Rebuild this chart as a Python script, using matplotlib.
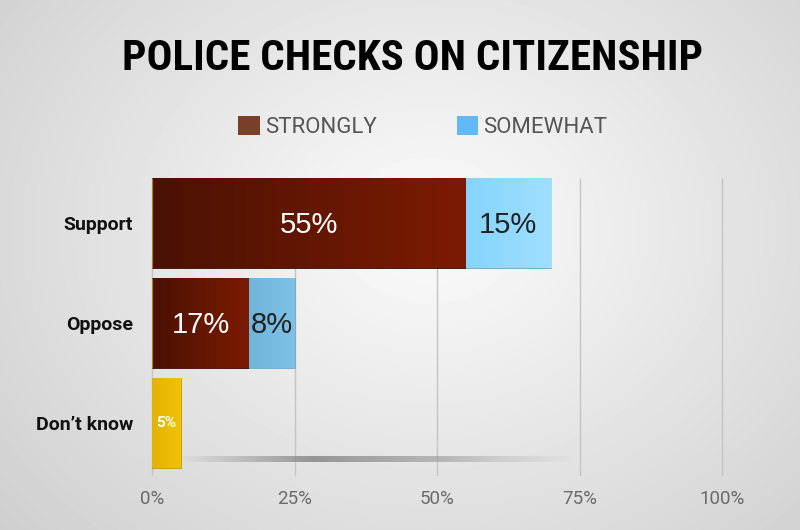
import numpy as np
import matplotlib
matplotlib.use("Agg")
import matplotlib.pyplot as plt
from matplotlib.patches import Patch
from matplotlib.colors import LinearSegmentedColormap

# data
categories = ["Support", "Oppose", "Don\u2019t know"]
strongly = [55, 17, 0]
somewhat = [15, 8, 0]
dont_know = [0, 0, 5]
ticks = [0, 25, 50, 75, 100]
tick_labels = ["0%", "25%", "50%", "75%", "100%"]

roboto = ["Roboto", "DejaVu Sans"]
narrow = ["Roboto Condensed", "DejaVu Sans"]
sans = ["Liberation Sans", "DejaVu Sans"]

fig = plt.figure(figsize=(8, 5.3), dpi=100)

# radial background
bg = fig.add_axes([0, 0, 1, 1], zorder=-10)
yy, xx = np.mgrid[0:530, 0:800]
r = np.sqrt(((xx - 430) / 520.0) ** 2 + ((yy - 230) / 420.0) ** 2)
shade = np.clip(0.985 - 0.16 * r, 0.8, 1)
bg.imshow(shade, cmap="gray", vmin=0, vmax=1, aspect="auto", extent=[0, 800, 530, 0])
bg.axis("off")

# main axes: 0% at x=152 px, 5.7 px per %
x0, k = 152, 5.7
left_px, right_px = 147, 760
ax = fig.add_axes([left_px / 800, 1 - 476 / 530, (right_px - left_px) / 800, (476 - 178) / 530])
ax.set_xlim((left_px - x0) / k, (right_px - x0) / k)
ax.set_ylim(2.53, -0.45)
ax.patch.set_alpha(0)
for s in ax.spines.values():
    s.set_visible(False)

y = np.arange(len(categories))
ax.vlines(ticks, -0.45, 2.53, color="#c4c4c4", lw=1, zorder=0)


def gradient_fill(patches, c1, c2):
    cmap = LinearSegmentedColormap.from_list("g", [c1, c2])
    grad = np.linspace(0, 1, 256).reshape(1, -1)
    for p in patches:
        if p.get_width() <= 0:
            continue
        bx, by = p.get_x(), p.get_y()
        w, h = p.get_width(), p.get_height()
        im = ax.imshow(grad, cmap=cmap, aspect="auto", extent=[bx, bx + w, by + h, by],
                       zorder=2, interpolation="bicubic")
        im.set_clip_path(p)


b1 = ax.barh(y, strongly, height=0.9, color="#5a1506", edgecolor="#3a0c04", lw=0.6, zorder=2)
gradient_fill(b1, "#4a1104", "#7c1b02")
b2 = ax.barh(y, somewhat, left=strongly, height=0.9, color="#8fd8ff", edgecolor="#6aa9c8", lw=0.6, zorder=2)
gradient_fill([b2[0]], "#86d4fd", "#9fdfff")
gradient_fill([b2[1]], "#6fb4da", "#7fc2e6")
b3 = ax.barh(y, dont_know, height=0.9, color="#e6b800", edgecolor="#c89a00", lw=0.6, zorder=2)
gradient_fill([b3[2]], "#e3b300", "#f0c20a")

# floor shadow
sh = LinearSegmentedColormap.from_list("sh", [(0.55, 0.55, 0.55, 0.0), (0.55, 0.55, 0.55, 0.9),
                                              (0.6, 0.6, 0.6, 0.6), (0.7, 0.7, 0.7, 0.0)])
ax.imshow(np.linspace(0, 1, 256).reshape(1, -1), cmap=sh, aspect="auto",
          extent=[4.5, 75, 2.39, 2.33], zorder=1)

# value labels
for i in range(len(categories)):
    if strongly[i]:
        ax.text(strongly[i] / 2, i + 0.02, f"{strongly[i]}%", ha="center", va="center",
                color="white", fontsize=21, family=sans, zorder=5)
    if somewhat[i]:
        ax.text(strongly[i] + somewhat[i] / 2, i + 0.02, f"{somewhat[i]}%", ha="center", va="center",
                color="#222222", fontsize=21, family=sans, zorder=5)
    if dont_know[i]:
        ax.text(dont_know[i] / 2, i, f"{dont_know[i]}%", ha="center", va="center",
                color="white", fontsize=11, fontweight="bold", family=roboto, zorder=5)

ax.set_yticks(y)
ax.set_yticklabels(categories, fontsize=14, fontweight="bold", family=roboto, color="#111111")
ax.set_xticks(ticks)
ax.set_xticklabels(tick_labels, fontsize=13.5, family=roboto, color="#6a6a6a")
ax.tick_params(length=0)
ax.tick_params(axis="y", pad=10)
ax.tick_params(axis="x", pad=10)

fig.text(0.516, 1 - 58 / 530, "POLICE CHECKS ON CITIZENSHIP", ha="center", va="center",
         fontsize=31, fontweight="bold", family=narrow, color="black")

handles = [Patch(facecolor="#7a3f28", label="STRONGLY"),
           Patch(facecolor="#63b8f8", label="SOMEWHAT")]
leg = fig.legend(handles=handles, loc="center", bbox_to_anchor=(423 / 800, 1 - 127 / 530),
                 ncol=2, frameon=False, handlelength=0.95, handleheight=0.95,
                 handletextpad=0.25, columnspacing=3.6,
                 prop={"family": roboto, "size": 16})
for t in leg.get_texts():
    t.set_color("#555555")

fig.savefig("out.png", dpi=100)
